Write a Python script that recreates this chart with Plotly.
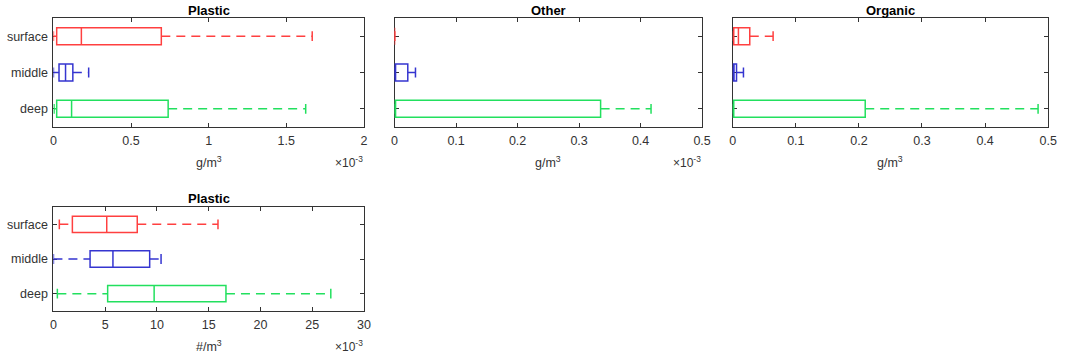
import plotly.graph_objects as go

# ---- data (values in displayed axis units) ----
groups = ["surface", "middle", "deep"]
colors = {"surface": "#ff4040", "middle": "#3535d0", "deep": "#22e05e"}

# Plastic mass (x1e-3 g/m3)
p1_min = [0.0, 0.0, 0.004]
p1_q1 = [0.021, 0.036, 0.021]
p1_med = [0.18, 0.078, 0.117]
p1_q3 = [0.695, 0.125, 0.739]
p1_max = [1.667, 0.227, 1.625]

# Other mass (x1e-3 g/m3)
p2_min = [0.0, 0.0, 0.0]
p2_q1 = [0.0, 0.0, 0.0]
p2_med = [0.0, 0.0, 0.0]
p2_q3 = [0.0, 0.0215, 0.335]
p2_max = [0.0, 0.034, 0.417]

# Organic mass (g/m3)
p3_min = [0.0, 0.0, 0.0]
p3_q1 = [0.0016, 0.0, 0.0]
p3_med = [0.009, 0.002, 0.001]
p3_q3 = [0.027, 0.006, 0.21]
p3_max = [0.064, 0.017, 0.484]

# Plastic count (x1e-3 #/m3)
p4_min = [0.57, 0.0, 0.38]
p4_q1 = [1.83, 3.54, 5.24]
p4_med = [5.15, 5.75, 9.73]
p4_q3 = [8.1, 9.3, 16.67]
p4_max = [15.9, 10.4, 26.8]

titles = ["Plastic", "Other", "Organic", "Plastic"]
xlabels = ["g/m<sup>3</sup>", "g/m<sup>3</sup>", "g/m<sup>3</sup>", "#/m<sup>3</sup>"]
multipliers = ["×10<sup>-3</sup>", "×10<sup>-3</sup>", "", "×10<sup>-3</sup>"]
xranges = [[0, 2], [0, 0.5], [0, 0.5], [0, 30]]
xticks = [[0, 0.5, 1, 1.5, 2], [0, 0.1, 0.2, 0.3, 0.4, 0.5],
          [0, 0.1, 0.2, 0.3, 0.4, 0.5], [0, 5, 10, 15, 20, 25, 30]]

panels = [
    (p1_min, p1_q1, p1_med, p1_q3, p1_max),
    (p2_min, p2_q1, p2_med, p2_q3, p2_max),
    (p3_min, p3_q1, p3_med, p3_q3, p3_max),
    (p4_min, p4_q1, p4_med, p4_q3, p4_max),
]

# ---- layout geometry (pixels) ----
W, H = 1072, 359
px_x = [(51, 365), (396, 707), (738, 1057), (51, 365)]
px_y = [(18, 127), (18, 127), (18, 127), (207, 311)]

fig = go.Figure()
axcol = "#333333"
font_fam = "Liberation Sans, Arial, sans-serif"
lw = 1.5

for i, (mn, q1, md, q3, mx) in enumerate(panels):
    xa = "x" if i == 0 else f"x{i+1}"
    ya = "y" if i == 0 else f"y{i+1}"
    for j, g in enumerate(groups):
        c = colors[g]
        fig.add_trace(go.Box(
            y=[g], q1=[q1[j]], median=[md[j]], q3=[q3[j]],
            lowerfence=[q1[j]], upperfence=[q3[j]],
            orientation="h", width=0.47, whiskerwidth=0,
            line=dict(color=c, width=lw), fillcolor="rgba(0,0,0,0)",
            boxpoints=False, showlegend=False, hoverinfo="skip",
            xaxis=xa, yaxis=ya))
        # dashed whiskers
        for a, b in ((mn[j], q1[j]), (q3[j], mx[j])):
            if b > a:
                fig.add_trace(go.Scatter(
                    x=[a, b], y=[g, g], mode="lines",
                    line=dict(color=c, width=lw, dash="9px,6px"),
                    showlegend=False, hoverinfo="skip", xaxis=xa, yaxis=ya))
        # whisker caps
        fig.add_trace(go.Scatter(
            x=[mn[j], mx[j]], y=[g, g], mode="markers",
            marker=dict(symbol="line-ns", size=7, line=dict(color=c, width=lw)),
            showlegend=False, hoverinfo="skip", xaxis=xa, yaxis=ya))

    x0, x1 = px_x[i]
    y0, y1 = px_y[i]
    xk = "xaxis" if i == 0 else f"xaxis{i+1}"
    yk = "yaxis" if i == 0 else f"yaxis{i+1}"
    fig.layout[xk] = dict(
        domain=[x0 / W, x1 / W], anchor=ya, range=xranges[i],
        tickvals=xticks[i], ticktext=[f"{v:g}" for v in xticks[i]],
        ticks="inside", ticklen=4, tickcolor=axcol, showline=True,
        linecolor=axcol, linewidth=1, mirror="allticks", showgrid=False,
        zeroline=False, tickfont=dict(size=12.5, color=axcol, family=font_fam),
        ticklabelstandoff=2, layer="below traces", fixedrange=True)
    fig.layout[yk] = dict(
        domain=[1 - y1 / H, 1 - y0 / H], anchor=xa, type="category",
        categoryorder="array", categoryarray=["deep", "middle", "surface"],
        range=[-0.5, 2.5], ticks="inside", ticklen=4, tickcolor=axcol,
        showline=True, linecolor=axcol, linewidth=1, mirror="allticks",
        showgrid=False, zeroline=False, showticklabels=(i in (0, 3)),
        tickfont=dict(size=12.5, color=axcol, family=font_fam),
        ticklabelstandoff=2, layer="below traces", fixedrange=True)
    # title
    fig.add_annotation(x=(x0 + x1) / 2 / W, y=1 - (y0 - 8) / H, xref="paper",
                       yref="paper", text=f"<b>{titles[i]}</b>", showarrow=False,
                       font=dict(size=13, color="#000", family=font_fam),
                       xanchor="center", yanchor="middle")
    # x label
    fig.add_annotation(x=(x0 + x1) / 2 / W, y=1 - (y1 + 35) / H, xref="paper",
                       yref="paper", text=xlabels[i], showarrow=False,
                       font=dict(size=12.5, color=axcol, family=font_fam),
                       xanchor="center", yanchor="middle")
    if multipliers[i]:
        fig.add_annotation(x=(x1 + 1) / W, y=1 - (y1 + 35) / H, xref="paper",
                           yref="paper", text=multipliers[i], showarrow=False,
                           font=dict(size=12, color=axcol, family=font_fam),
                           xanchor="right", yanchor="middle")

fig.update_layout(width=W, height=H, margin=dict(l=0, r=0, t=0, b=0),
                  paper_bgcolor="white", plot_bgcolor="white",
                  boxmode="overlay", font=dict(family=font_fam))
fig.write_html("out.html", config={"displayModeBar": False},
               post_script="document.body.style.margin='0';"
                           "document.body.style.overflow='hidden';")
